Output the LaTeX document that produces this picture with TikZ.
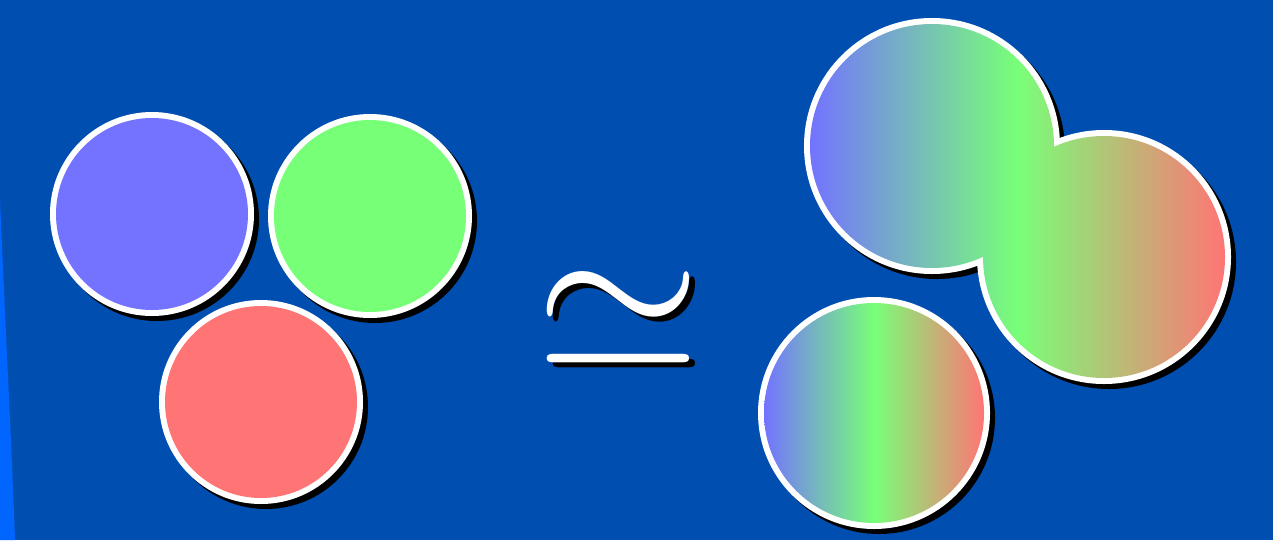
\documentclass[tikz,border=0pt]{standalone}
\definecolor{bg}{RGB}{0,78,176}
\definecolor{stripe}{RGB}{0,102,255}
\definecolor{cb}{RGB}{115,115,255}
\definecolor{cg}{RGB}{120,255,120}
\definecolor{cr}{RGB}{255,117,117}
\tikzset{
  shadowfill/.style={fill=black},
  rimfill/.style={fill=white},
  grad/.style={left color=cb, right color=cr, middle color=cg},
  symb/.style={inner sep=0pt, scale=16}
}
\newcommand\flatdisc[4]{% x, y, r, colour
  \fill[shadowfill] (#1+5,#2+5) circle (#3+3);
  \fill[rimfill] (#1,#2) circle (#3+3);
  \fill[#4] (#1,#2) circle (#3-3);
}
\begin{document}
\begin{tikzpicture}[x=0.75pt,y=-0.75pt]
\fill[bg] (0,0) rectangle (1273,540);
\useasboundingbox (0,0) rectangle (1273,540);
\fill[stripe] (0,200) .. controls (5,320) and (11,430) .. (15,540) -- (0,540) -- cycle;
% left discs
\flatdisc{152}{214}{99}{cb}
\flatdisc{370}{216}{99}{cg}
\flatdisc{261}{402}{99}{cr}
% symbol
\node[symb, text=black] (simshadow) at (624,326) {$\simeq$};
\node[symb, text=white] (sim) at (618,321) {$\simeq$};
% merged shape
\fill[shadowfill] (937,151) circle (128) (1109,262) circle (127);
\fill[rimfill] (932,146) circle (128) (1104,257) circle (127);
\shade[grad] (932,146) circle (122) (1104,257) circle (121);
% single gradient disc
\fill[shadowfill] (879,418) circle (116);
\fill[rimfill] (874,413) circle (116);
\shade[grad] (874,413) circle (110);
\end{tikzpicture}
\end{document}
